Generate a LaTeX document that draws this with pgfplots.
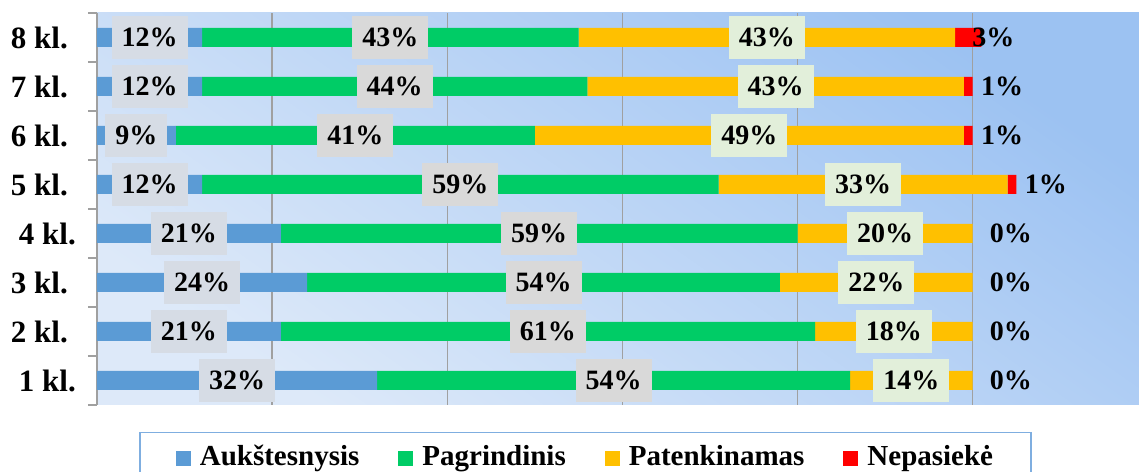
\documentclass[border=0pt]{standalone}
\usepackage{fontspec}
\setmainfont{Liberation Serif}
\usepackage{pgfplots}
\pgfplotsset{compat=1.18}
\usepackage{pgfplotstable}

\definecolor{cBlue}{HTML}{5B9BD5}
\definecolor{cGreen}{HTML}{00CC66}
\definecolor{cYellow}{HTML}{FFC000}
\definecolor{cRed}{HTML}{FF0000}
\definecolor{boxBlue}{HTML}{D6DCE5}
\definecolor{boxGreen}{HTML}{D9D9D9}
\definecolor{boxYellow}{HTML}{E2EFDA}
\definecolor{bgTop}{HTML}{9CC2F2}
\definecolor{bgBot}{HTML}{DDE9F9}
\definecolor{gridGray}{HTML}{A0A0A0}
\definecolor{legBlue}{HTML}{7FAEE0}

% y = class, a = Aukstesnysis, b = Pagrindinis, c = Patenkinamas, d = Nepasieke
\pgfplotstableread{
y a b c d
1 32 54 14 0
2 21 61 18 0
3 24 54 22 0
4 21 59 20 0
5 12 59 33 1
6 9 41 49 1
7 12 44 43 1
8 12 43 43 3
}\grades

\newcommand{\bigbf}{\bfseries\fontsize{28}{28}\selectfont}

\begin{document}
\begin{tikzpicture}
\pgfplotsset{
  common/.style={
    scale only axis, width=1042pt, height=392pt,
    xmin=0, xmax=119, ymin=0.5, ymax=8.5,
  },
  lbl/.style={
    draw=none, mark=none, forget plot,
    point meta=explicit symbolic,
    nodes near coords={\pgfplotspointmeta\%},
    every node near coord/.append style={anchor=center, text=black, font=\bigbf,
      fill=#1, inner xsep=10pt, inner ysep=8pt, text height=23pt, text depth=4pt},
  },
}
\begin{axis}[common, name=ax,
  xbar stacked, bar width=19pt,
  axis background/.style={top color=bgTop, bottom color=bgBot, shading angle=-35},
  axis x line*=bottom, x axis line style={draw=none},
  xtick={0,20,...,100}, xticklabels={}, xmajorgrids,
  major grid style={gridGray, line width=1.5pt},
  axis y line*=left, y axis line style={gridGray, line width=1.5pt},
  ytick={1,...,8},
  yticklabels={1 kl.\kern-8pt, 2 kl., 3 kl., 4 kl.\kern-8pt, 5 kl., 6 kl., 7 kl., 8 kl.},
  major tick length=0pt, minor tick length=9pt, tick align=outside,
  minor ytick={0.5,1.5,...,8.5},
  minor y tick style={gridGray, line width=1.5pt},
  yticklabel style={font=\bfseries\fontsize{31}{31}\selectfont, anchor=east, inner sep=0pt, xshift=-29pt},
  legend columns=4,
  legend image code/.code={\fill[#1] (0pt,-10pt) rectangle (15pt,5pt);},
  legend style={at={(0.4688,0)}, anchor=north, yshift=-27pt,
    draw=legBlue, line width=1.5pt, fill=white,
    font=\bfseries\fontsize{29}{29}\selectfont,
    inner xsep=36pt, inner ysep=10pt,
    /tikz/every odd column/.append style={column sep=7pt},
    /tikz/every even column/.append style={column sep=37pt}},
]
\addplot[fill=cBlue, draw=none] table[x=a, y=y] {\grades};
\addlegendentry{Aukštesnysis}
\addplot[fill=cGreen, draw=none] table[x=b, y=y] {\grades};
\addlegendentry{Pagrindinis}
\addplot[fill=cYellow, draw=none] table[x=c, y=y] {\grades};
\addlegendentry{Patenkinamas}
\addplot[fill=cRed, draw=none] table[x=d, y=y] {\grades};
\addlegendentry{Nepasiekė}
\end{axis}

\begin{axis}[common, hide axis, clip=false]
\addplot[lbl=boxBlue] table[x expr=\thisrow{a}/2, y=y, meta=a] {\grades};
\addplot[lbl=boxGreen] table[x expr=\thisrow{a}+\thisrow{b}/2, y=y, meta=b] {\grades};
\addplot[lbl=boxYellow] table[x expr=\thisrow{a}+\thisrow{b}+\thisrow{c}/2, y=y, meta=c] {\grades};
\addplot[draw=none, mark=none, point meta=explicit symbolic,
  nodes near coords={\pgfplotspointmeta\%},
  every node near coord/.append style={anchor=west, text=black, font=\bigbf,
    inner sep=0pt, xshift=17pt}]
  table[x expr=\thisrow{a}+\thisrow{b}+\thisrow{c}, y=y, meta=d] {\grades};
\end{axis}

\pgfresetboundingbox
\path ([xshift=-97pt, yshift=-67pt]ax.south west) rectangle ([yshift=13pt]ax.north east);
\end{tikzpicture}
\end{document}
